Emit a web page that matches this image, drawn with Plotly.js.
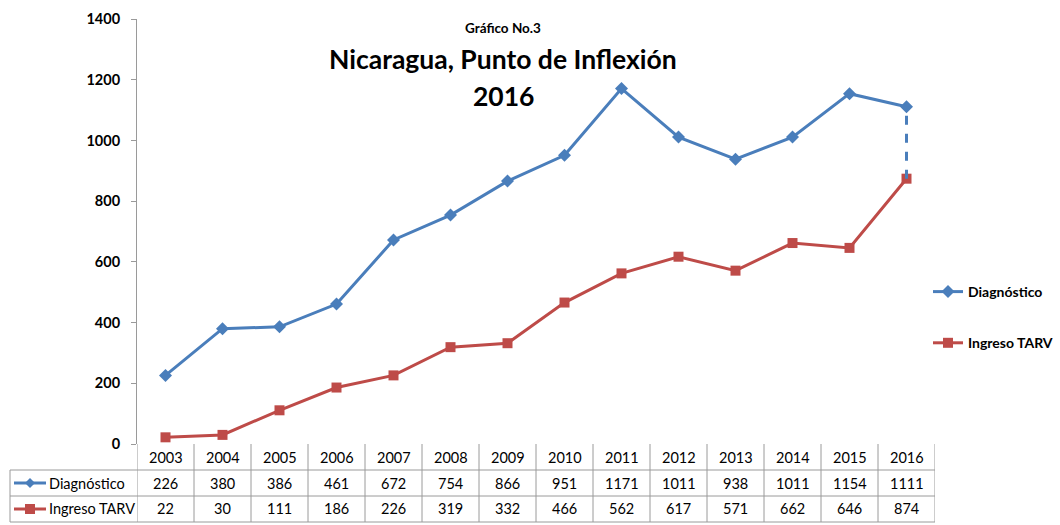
<!DOCTYPE html>
<html><head><meta charset="utf-8">
<script src="https://cdn.plot.ly/plotly-3.0.1.min.js"></script>
<style>html,body{margin:0;padding:0;background:#fff}#chart{width:1060px;height:525px}</style>
</head><body><div id="chart"></div>
<script>
var years = ["2003","2004","2005","2006","2007","2008","2009","2010","2011","2012","2013","2014","2015","2016"];
var diagnostico = [226,380,386,461,672,754,866,951,1171,1011,938,1011,1154,1111];
var ingresoTARV = [22,30,111,186,226,319,332,466,562,617,571,662,646,874];
var seriesNames = ["Diagnóstico","Ingreso TARV"];
var yTicks = [0,200,400,600,800,1000,1200,1400];
var titleSmall = "Gráfico No.3";
var titleLine1 = "Nicaragua, Punto de Inflexión";
var titleLine2 = "2016";

var BLUE = "#4A7EBB", RED = "#BE4B48", GRID = "#9A9A9A";
var FONT = "Lato, 'Open Sans', sans-serif";
var n = years.length;
var idx = years.map(function(_, i){ return i; });

var W = 1060, H = 525, mL = 137, mR = 125, mT = 19, mB = 81;
var pw = W - mL - mR, ph = H - mT - mB;
function px2x(p){ return (p - mL) / pw; }
function py2y(p){ return (H - mB - p) / ph; }

var traces = [
  {x: idx, y: diagnostico, name: seriesNames[0], type: "scatter", mode: "lines+markers",
   line: {color: BLUE, width: 3}, marker: {symbol: "diamond", size: 10, color: BLUE}, legendgroup: "a"},
  {x: idx, y: ingresoTARV, name: seriesNames[1], type: "scatter", mode: "lines+markers",
   line: {color: RED, width: 3}, marker: {symbol: "square", size: 10, color: RED}, legendgroup: "b"},
  {x: [n-1, n-1], y: [ingresoTARV[n-1], diagnostico[n-1]], type: "scatter", mode: "lines",
   line: {color: BLUE, width: 3, dash: "dash"}, showlegend: false, hoverinfo: "skip"}
];

var rowTop = [py2y(444), py2y(470), py2y(496), py2y(522)];
var shapes = [], annotations = [];
for (var i = 0; i <= n; i++) {
  shapes.push({type: "line", xref: "x", yref: "paper", x0: i - 0.5, x1: i - 0.5,
    y0: rowTop[0], y1: rowTop[3], line: {color: GRID, width: 1}});
}
shapes.push({type: "line", xref: "paper", yref: "paper", x0: px2x(10), x1: px2x(10),
  y0: rowTop[1], y1: rowTop[3], line: {color: GRID, width: 1}});
[1,2,3].forEach(function(r){
  shapes.push({type: "line", xref: "paper", yref: "paper", x0: px2x(10), x1: 1,
    y0: rowTop[r], y1: rowTop[r], line: {color: GRID, width: 1}});
});
var rows = [years, diagnostico, ingresoTARV];
rows.forEach(function(arr, r){
  arr.forEach(function(v, i){
    annotations.push({xref: "x", yref: "paper", x: i, y: (rowTop[r] + rowTop[r+1]) / 2,
      text: String(v), showarrow: false, font: {family: FONT, size: 14.5, color: "#000"},
      xanchor: "center", yanchor: "middle"});
  });
});
[[BLUE, "diamond"], [RED, "square"]].forEach(function(k, r){
  var yc = (rowTop[r+1] + rowTop[r+2]) / 2;
  shapes.push({type: "line", xref: "paper", yref: "paper", x0: px2x(14), x1: px2x(46),
    y0: yc, y1: yc, line: {color: k[0], width: 3}});
  var cx = 30, cy = H - mB - yc * ph;
  var path;
  if (k[1] === "diamond") {
    path = "M" + px2x(cx-5) + "," + yc + " L" + px2x(cx) + "," + py2y(cy-5) +
           " L" + px2x(cx+5) + "," + yc + " L" + px2x(cx) + "," + py2y(cy+5) + " Z";
  } else {
    path = "M" + px2x(cx-5) + "," + py2y(cy-5) + " L" + px2x(cx+5) + "," + py2y(cy-5) +
           " L" + px2x(cx+5) + "," + py2y(cy+5) + " L" + px2x(cx-5) + "," + py2y(cy+5) + " Z";
  }
  shapes.push({type: "path", xref: "paper", yref: "paper", path: path,
    fillcolor: k[0], line: {color: k[0], width: 0}});
  annotations.push({xref: "paper", yref: "paper", x: px2x(47), y: yc, text: seriesNames[r],
    showarrow: false, xanchor: "left", yanchor: "middle", font: {family: FONT, size: 14.5, color: "#000"}});
});
annotations.push({xref: "paper", yref: "paper", x: px2x(503), y: py2y(28), text: "<b>" + titleSmall + "</b>",
  showarrow: false, xanchor: "center", yanchor: "middle", font: {family: FONT, size: 13.5, color: "#000"}});
annotations.push({xref: "paper", yref: "paper", x: px2x(503), y: py2y(59), text: "<b>" + titleLine1 + "</b>",
  showarrow: false, xanchor: "center", yanchor: "middle", font: {family: FONT, size: 26.5, color: "#000"}});
annotations.push({xref: "paper", yref: "paper", x: px2x(503), y: py2y(96), text: "<b>" + titleLine2 + "</b>",
  showarrow: false, xanchor: "center", yanchor: "middle", font: {family: FONT, size: 26.5, color: "#000"}});

var layout = {
  width: W, height: H,
  margin: {l: mL, r: mR, t: mT, b: mB, pad: 0, autoexpand: false},
  paper_bgcolor: "#fff", plot_bgcolor: "#fff",
  showlegend: true,
  legend: {x: px2x(928), y: py2y(276), xanchor: "left", yanchor: "top", tracegroupgap: 30,
    font: {family: FONT, size: 14, color: "#000", weight: "bold"}, bgcolor: "rgba(0,0,0,0)"},
  xaxis: {type: "linear", range: [-0.5, n - 0.5], showticklabels: false, showgrid: false,
    zeroline: false, showline: false, ticks: "", fixedrange: true},
  yaxis: {range: [0, 1400], tickvals: yTicks, ticktext: yTicks.map(String), showgrid: false,
    zeroline: false, showline: true, linecolor: GRID, linewidth: 1, ticks: "outside",
    ticklen: 5, tickcolor: GRID, tickfont: {family: FONT, size: 14.5, color: "#000", weight: "bold"},
    ticklabelstandoff: 8},
  shapes: shapes, annotations: annotations
};
Plotly.newPlot("chart", traces, layout, {displayModeBar: false, staticPlot: true});
</script></body></html>
